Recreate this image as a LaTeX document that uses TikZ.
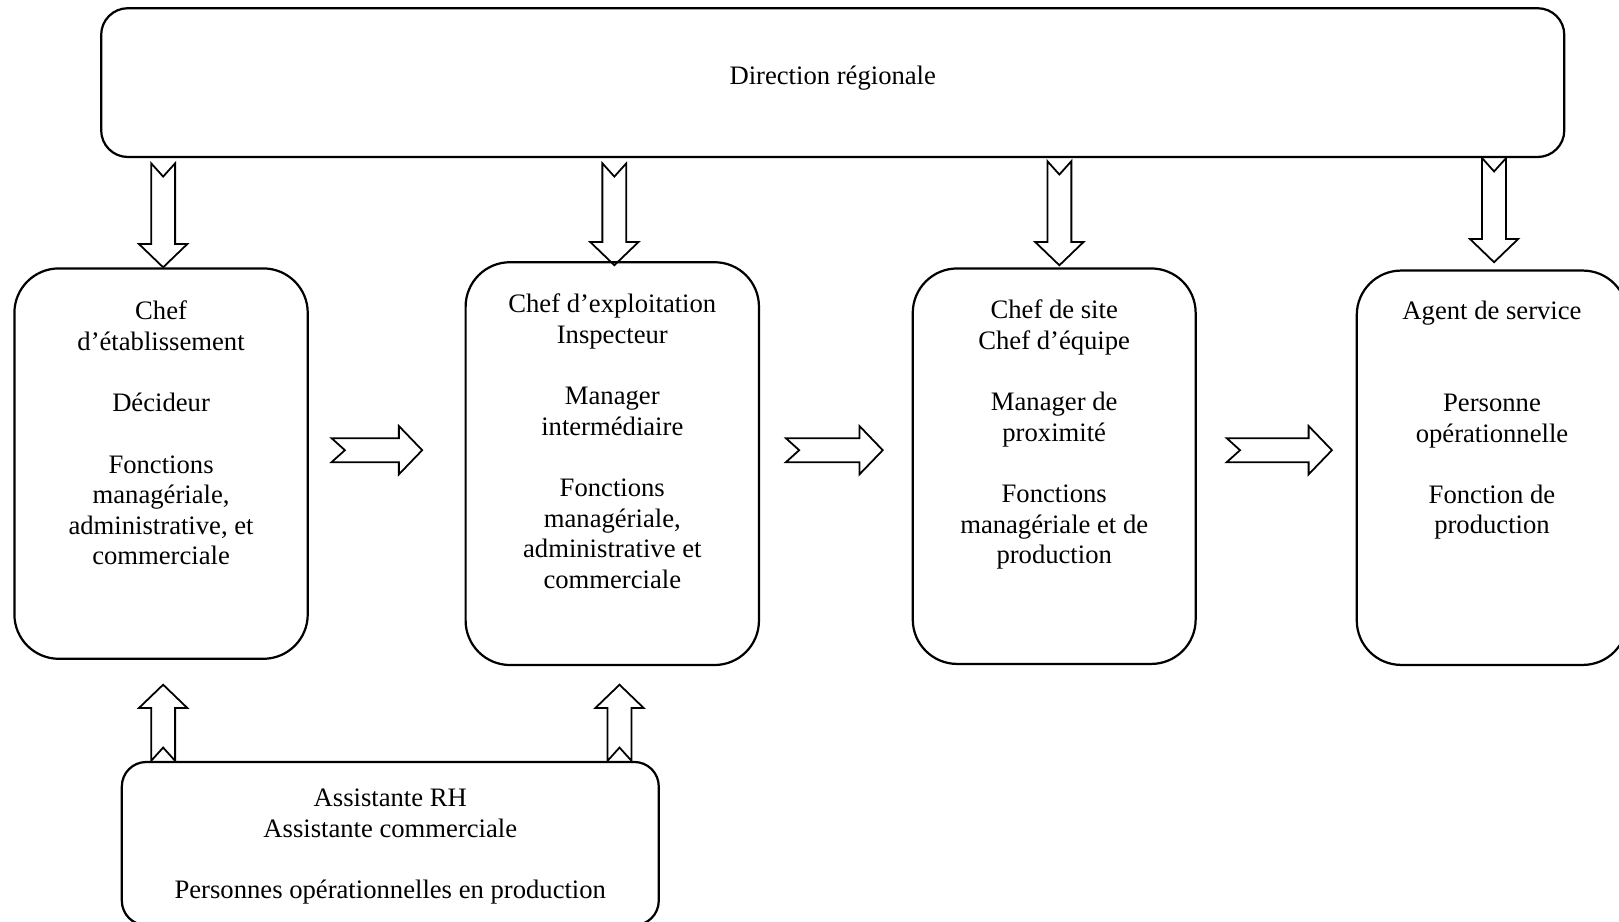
\documentclass[tikz,border=0pt]{standalone}
\usepackage{fontspec}
\setmainfont{Liberation Serif}
\usetikzlibrary{calc,positioning}

\tikzset{
  box/.style={draw, line width=1pt, rounded corners=20pt, inner sep=0pt},
  txt/.style={align=center, inner sep=0pt, font=\fontsize{12}{13.8}\selectfont},
  blockarrow/.style={draw, line width=0.8pt, line join=miter}
}

% hollow block arrow with notched tail, from #1 to #2
\newcommand{\hollowarrow}[2]{%
  \draw[blockarrow] let \p1=#1, \p2=#2,
      \n1={atan2(\y2-\y1,\x2-\x1)}, \n2={veclen(\x2-\x1,\y2-\y1)} in
    [shift={(\p1)}, rotate=\n1]
    (0pt,5.4pt) -- (\n2-10.5pt,5.4pt) -- (\n2-10.5pt,10.9pt) -- (\n2,0pt)
    -- (\n2-10.5pt,-10.9pt) -- (\n2-10.5pt,-5.4pt) -- (0pt,-5.4pt) -- (6pt,0pt) -- cycle;
}

\begin{document}
\begin{tikzpicture}[x=0.465pt, y=-0.465pt]
\useasboundingbox (0,0) rectangle (1568,892);

\node[box, txt, rounded corners=12pt, text depth=6.5pt, minimum width=658.9pt, minimum height=67pt] (dir) at (806.5,80) {Direction régionale};

\node[box, minimum width=132.1pt, minimum height=175.8pt] (etab) at (156,449) {};
\node[box, minimum width=132.1pt, minimum height=181.4pt] (expl) at (593,449) {};
\node[box, minimum width=127.4pt, minimum height=178.1pt] (site) at (1021,451.5) {};
\node[box, minimum width=121.8pt, minimum height=177.6pt] (agent) at (1445,453) {};
\node[box, rounded corners=11pt, minimum width=241.8pt, minimum height=73.5pt] (assist) at (378,817) {};

\node[txt, below=15pt of etab.north] (etabtxt) {Chef\\d’établissement\\[13.8pt]Décideur\\[13.8pt]Fonctions\\managériale,\\administrative, et\\commerciale};
\node[txt, below=14.5pt of expl.north] (expltxt) {Chef d’exploitation\\Inspecteur\\[13.8pt]Manager\\intermédiaire\\[13.8pt]Fonctions\\managériale,\\administrative et\\commerciale};
\node[txt, below=14.5pt of site.north] (sitetxt) {Chef de site\\Chef d’équipe\\[13.8pt]Manager de\\proximité\\[13.8pt]Fonctions\\managériale et de\\production};
\node[txt, below=14pt of agent.north] (agenttxt) {Agent de service\\[27.6pt]Personne\\opérationnelle\\[13.8pt]Fonction de\\production};
\node[txt, below=12.5pt of assist.north] (assisttxt) {Assistante RH\\Assistante commerciale\\[13.8pt]Personnes opérationnelles en production};

\coordinate (row) at (0,436);

% from the regional direction
\hollowarrow{($(etab.north |- dir.south)+(2,5)$)}{($(etab.north)+(2,0)$)}
\hollowarrow{($(expl.north |- dir.south)+(2,5)$)}{($(expl.north)+(2,4)$)}
\hollowarrow{($(site.north |- dir.south)+(5,3)$)}{($(site.north)+(5,-2)$)}
\hollowarrow{($(agent.north |- dir.south)+(2,0)$)}{($(agent.north)+(2,-7)$)}

% along the line
\hollowarrow{($(etab.east |- row)+(22,0)$)}{($(expl.west |- row)+(-41,0)$)}
\hollowarrow{($(expl.east |- row)+(25,0)$)}{($(site.west |- row)+(-28,0)$)}
\hollowarrow{($(site.east |- row)+(29,0)$)}{($(agent.west |- row)+(-23,0)$)}

% from the assistants
\hollowarrow{($(etab.south |- assist.north)+(2,0)$)}{($(etab.south)+(2,24)$)}
\hollowarrow{($(expl.south |- assist.north)+(7,0)$)}{($(expl.south)+(7,18)$)}
\end{tikzpicture}
\end{document}
